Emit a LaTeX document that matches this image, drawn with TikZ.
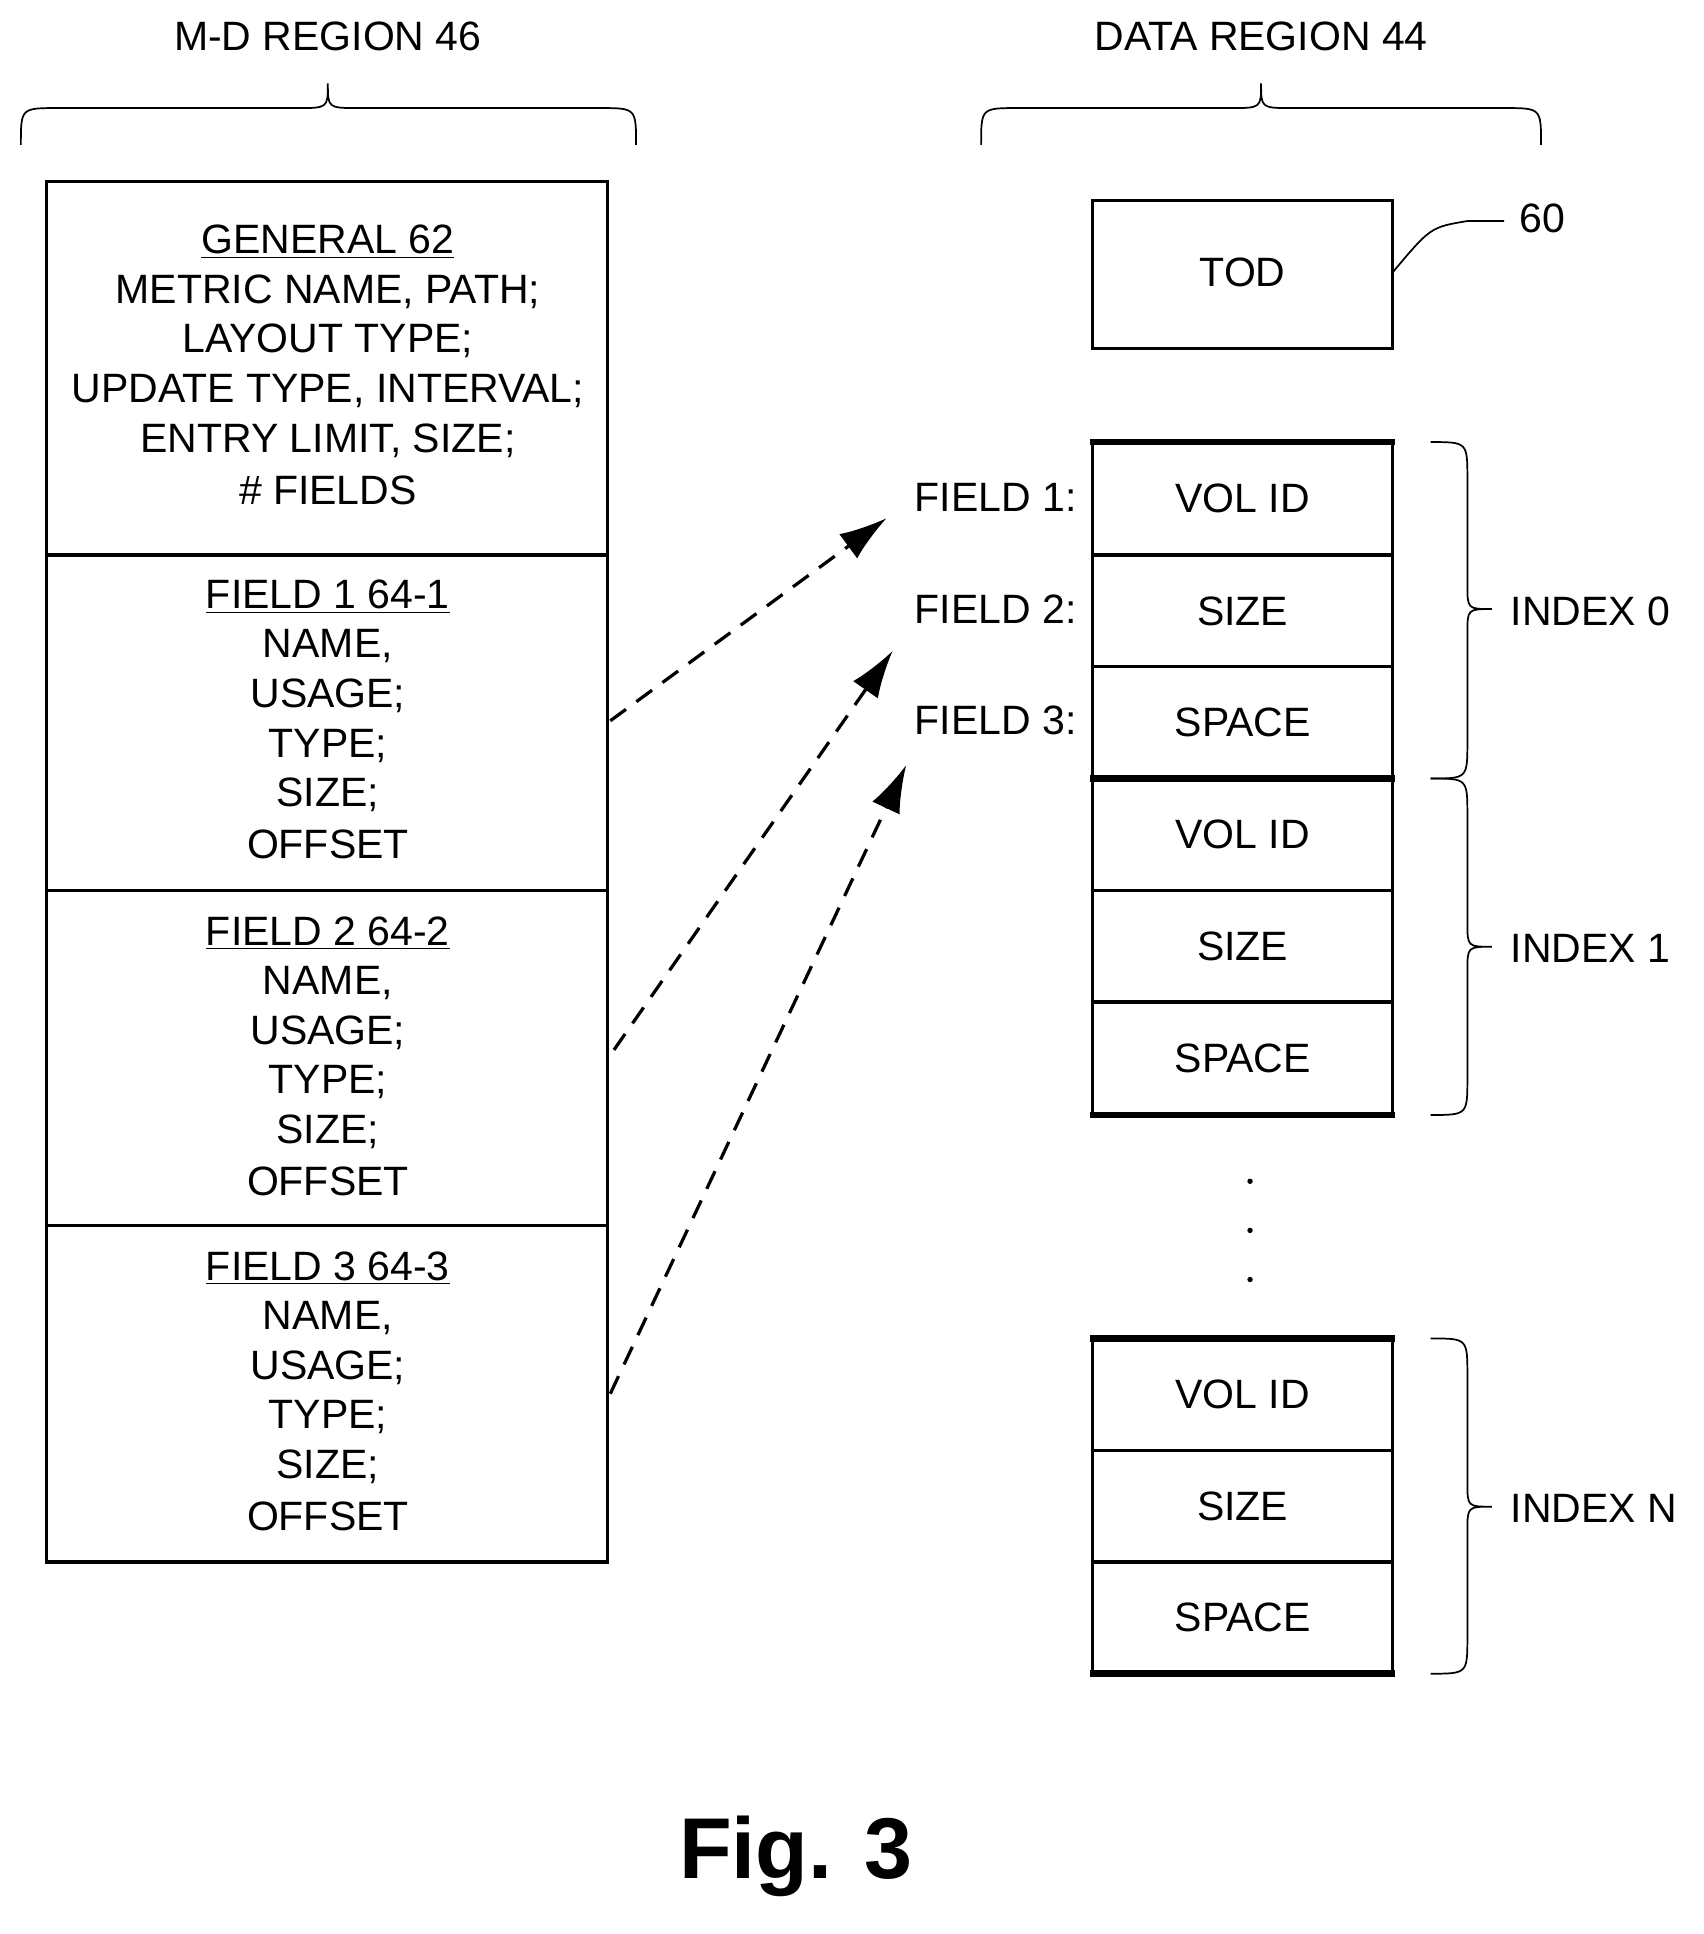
\documentclass[tikz,border=0pt]{standalone}
\usepackage{fontspec}
\setmainfont{Liberation Sans}
\usetikzlibrary{arrows.meta}
\newcommand\myhbrace[3]{\draw[br] (#1,118) .. controls (#1,88) .. (#1+30,88) -- (#3-25,88) .. controls (#3,88) .. (#3,68) .. controls (#3,88) .. (#3+25,88) -- (#2-30,88) .. controls (#2,88) .. (#2,118);}
\newcommand\myvbrace[3]{\draw[br] (1165,#1) .. controls (1195,#1) .. (1195,#1+30) -- (1195,#3-20) .. controls (1195,#3) .. (1215,#3) .. controls (1195,#3) .. (1195,#3+20) -- (1195,#2-30) .. controls (1195,#2) .. (1165,#2);}
\begin{document}
\begin{tikzpicture}[x=0.02cm,y=-0.02cm,
 txt/.style={font=\fontsize{19}{20}\selectfont,inner sep=0pt},
 br/.style={line width=0.8pt},
 box/.style={line width=1.5pt},
 thick3/.style={line width=3pt},
 arr/.style={line width=1.5pt,dash pattern=on 9pt off 6pt,-{Latex[length=22pt,width=14pt]}}]
\useasboundingbox (0,0) rectangle (1387,1575);
\node[txt] (t1) at (267,30) {M-D REGION 46};
\node[txt] (t2) at (1027,30) {DATA REGION 44};
\myhbrace{17}{518}{267}
\myhbrace{799}{1255}{1027}
% left box
\draw[box] (38,148) rectangle (495,1272);
\draw[box] (38,452) -- (495,452) (38,725) -- (495,725) (38,998) -- (495,998);
\foreach \t [count=\i from 0] in {\underline{GENERAL 62},{METRIC NAME, PATH;},LAYOUT TYPE;,{UPDATE TYPE, INTERVAL;},{ENTRY LIMIT, SIZE;},\# FIELDS}
  \node[txt] (g\i) at (267,197+40.4*\i) {\t};
\foreach \f/\y in {1/486,2/760,3/1033}{
 \foreach \t [count=\i from 0] in {\underline{FIELD \f\ 64-\f},{NAME,},USAGE;,TYPE;,SIZE;,OFFSET}
  \node[txt] (f\f-\i) at (267,\y+40.4*\i) {\t};}
% TOD
\draw[box] (890,163) rectangle (1134,284);
\node[txt] (tod) at (1012,222) {TOD};
\node[txt] (n60) at (1256,178) {60};
\draw[br] (1134,222) .. controls (1165,185) .. (1195,180) -- (1225,180);
% data cells
\foreach \a/\b/\lab in {360/452/VOL ID,452/543/SIZE,543/634/SPACE,634/725/VOL ID,725/816/SIZE,816/908/SPACE,1090/1181/VOL ID,1181/1272/SIZE,1272/1363/SPACE}{
 \draw[box] (890,\a) rectangle (1134,\b);
 \node[txt] at (1012,{(\a+\b)/2}) {\lab};}
\foreach \y in {360,634,908,1090,1363} \draw[thick3] (888,\y) -- (1136,\y);
\node[txt,anchor=east] (fl1) at (877,405) {FIELD 1:};
\node[txt,anchor=east] (fl2) at (877,496) {FIELD 2:};
\node[txt,anchor=east] (fl3) at (877,587) {FIELD 3:};
\myvbrace{360}{634}{496}
\myvbrace{634}{908}{771}
\myvbrace{1090}{1363}{1227}
\node[txt,anchor=west] (i0) at (1230,498) {INDEX 0};
\node[txt,anchor=west] (i1) at (1230,772) {INDEX 1};
\node[txt,anchor=west] (iN) at (1230,1228) {INDEX N};
\foreach \y in {962,1002,1042} \fill (1018,\y) circle (2.2);
\coordinate (a1) at (497,587); \coordinate (b1) at (722,422);
\coordinate (a2) at (500,855); \coordinate (b2) at (727,530);
\coordinate (a3) at (497,1135); \coordinate (b3) at (738,623);
\draw[arr] (a1) -- (b1);
\draw[arr] (a2) -- (b2);
\draw[arr] (a3) -- (b3);
\node[font=\bfseries\fontsize{40}{42}\selectfont,inner sep=0pt] (fig) at (648,1512) {Fig. 3};
\end{tikzpicture}
\end{document}
